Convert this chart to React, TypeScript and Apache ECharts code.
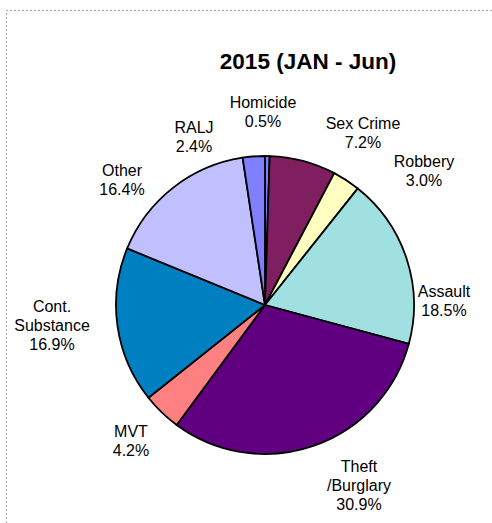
import React, { useEffect, useRef } from "react";
import * as echarts from "echarts";

const TITLE = "2015 (JAN - Jun)";
const CATEGORIES = [
  "Homicide",
  "Sex Crime",
  "Robbery",
  "Assault",
  "Theft\n/Burglary",
  "MVT",
  "Cont.\nSubstance",
  "Other",
  "RALJ",
];
const PERCENTS = [0.5, 7.2, 3.0, 18.5, 30.9, 4.2, 16.9, 16.4, 2.4];
const COLORS = [
  "#8080ff",
  "#801f60",
  "#ffffc0",
  "#a0e0e0",
  "#600080",
  "#ff8080",
  "#0080c0",
  "#c0c0ff",
  "#8080ff",
];
// label block centres (pixels), as placed in the original chart
const LABEL_POS: [number, number][] = [
  [263, 112],
  [363, 133],
  [424, 171],
  [444, 301],
  [359, 485],
  [131, 441],
  [52, 325],
  [122, 180],
  [194, 137],
];

export default function App() {
  const ref = useRef<HTMLDivElement>(null);
  useEffect(() => {
    document.body.style.margin = "0";
    const chart = echarts.init(ref.current!, null, { renderer: "svg" });
    chart.setOption({
      animation: false,
      backgroundColor: "#ffffff",
      title: {
        text: TITLE,
        left: 303,
        top: 45,
        textAlign: "center",
        textStyle: {
          fontFamily: "Liberation Sans, Arial, sans-serif",
          fontWeight: "bold",
          fontSize: 22.5,
          color: "#000",
        },
      },
      graphic: [
        {
          type: "polyline",
          shape: { points: [[6.5, 523], [6.5, 10.5], [492, 10.5]] },
          style: { stroke: "#a8a8a8", lineWidth: 1, lineDash: [2, 2], fill: null },
          silent: true,
        },
      ],
      series: [
        {
          type: "pie",
          center: [265, 305],
          radius: 149,
          startAngle: 90,
          clockwise: true,
          avoidLabelOverlap: false,
          itemStyle: { borderColor: "#000", borderWidth: 1.8 },
          label: {
            show: true,
            position: "outside",
            formatter: (p: any) => `${p.name}\n${Number(p.value).toFixed(1)}%`,
            fontFamily: "Liberation Sans, Arial, sans-serif",
            fontSize: 16,
            lineHeight: 19,
            color: "#000",
            align: "center",
          },
          labelLine: { show: false },
          labelLayout: (params: any) => {
            const pos = LABEL_POS[params.dataIndex];
            return { x: pos[0], y: pos[1], align: "center", verticalAlign: "middle" };
          },
          emphasis: { disabled: true },
          data: CATEGORIES.map((name, i) => ({
            name,
            value: PERCENTS[i],
            itemStyle: { color: COLORS[i] },
          })),
        },
      ],
    });
    return () => chart.dispose();
  }, []);
  return <div ref={ref} style={{ width: 492, height: 523 }} />;
}
